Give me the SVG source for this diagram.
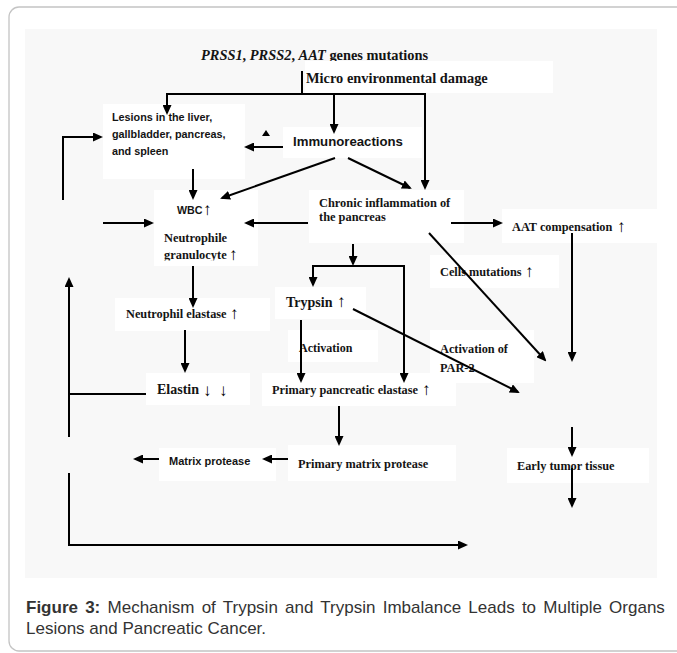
<svg xmlns="http://www.w3.org/2000/svg" width="677" height="653" viewBox="0 0 677 653">
<style>
.box{fill:#fff}
.s{font-family:"Liberation Serif","Times New Roman",serif;font-weight:bold;fill:#141414}
.ss{font-family:"Liberation Sans",Arial,sans-serif;font-weight:bold;fill:#141414}
.ar{font-family:"Liberation Sans","DejaVu Sans",sans-serif;font-weight:bold;fill:#000;font-size:17px}
.c{stroke:#000;stroke-width:2;fill:none}
.ca{stroke:#000;stroke-width:2;fill:none;marker-end:url(#ah)}
.cap{font-family:"Liberation Sans",Arial,sans-serif;font-size:17px;fill:#333}
</style>
<defs>
<marker id="ah" viewBox="0 0 10 9" refX="8" refY="4.5" markerWidth="10" markerHeight="9" markerUnits="userSpaceOnUse" orient="auto"><path d="M0,0 L10,4.5 L0,9 z" fill="#000"/></marker>
<clipPath id="clipG"><rect x="154" y="240" width="104" height="20.5"/></clipPath>
</defs>
<rect x="0" y="0" width="677" height="653" fill="#fff"/>
<rect x="9" y="7" width="720" height="644" rx="10" fill="#fff" stroke="#c4c4c4" stroke-width="1.3"/>
<rect x="25" y="29" width="632" height="549" fill="#f8f8f8"/>

<g id="title"><text class="s" x="201" y="60" font-size="14.4"><tspan font-style="italic">PRSS1</tspan>, <tspan font-style="italic">PRSS2</tspan>, <tspan font-style="italic">AAT</tspan> genes mutations</text></g>
<g id="micro"><rect class="box" x="305" y="61" width="248" height="32"/><text class="s" x="306" y="83" font-size="14.4">Micro environmental damage</text></g>
<g id="lesions"><rect class="box" x="103" y="104" width="142" height="75"/><text class="ss" font-size="10.8"><tspan x="112" y="121">Lesions in the liver,</tspan><tspan x="112" y="138">gallbladder, pancreas,</tspan><tspan x="112" y="155">and spleen</tspan></text></g>
<g id="immuno"><rect class="box" x="283" y="127" width="139" height="31"/><text class="ss" x="293" y="146" font-size="13.2">Immunoreactions</text></g>
<g id="wbc"><rect class="box" x="154" y="190" width="104" height="76"/><text class="ss" x="177" y="214" font-size="10.7">WBC</text><text class="ar" x="203" y="215" font-size="21">↑</text><text class="s" x="164" y="242" font-size="12.4">Neutrophile</text><g clip-path="url(#clipG)"><text class="s" x="164" y="259" font-size="12.4">granulocyte</text></g><text class="ar" x="229" y="260" font-size="16">↑</text></g>
<g id="chronic"><rect class="box" x="309" y="190" width="155" height="53"/><text class="s" font-size="12.4"><tspan x="319" y="207">Chronic inflammation of</tspan><tspan x="319" y="221">the pancreas</tspan></text></g>
<g id="aat"><rect class="box" x="502" y="209" width="155" height="34"/><text class="s" x="512" y="231" font-size="12.3">AAT compensation</text><text class="ar" x="617" y="232">↑</text></g>
<g id="cells"><rect class="box" x="430" y="255" width="129" height="33"/><text class="s" x="440" y="276" font-size="12.3">Cells mutations</text><text class="ar" x="525" y="277">↑</text></g>
<g id="trypsin"><rect class="box" x="275" y="287" width="91" height="32"/><text class="s" x="286" y="307" font-size="14">Trypsin</text><text class="ar" x="337" y="307">↑</text></g>
<g id="activation"><rect class="box" x="288" y="330" width="90" height="32"/><text class="s" x="299" y="352" font-size="12">Activation</text></g>
<g id="par2"><rect class="box" x="430" y="330" width="104" height="53"/><text class="s" font-size="12.3"><tspan x="440" y="353">Activation of</tspan><tspan x="440" y="372">PAR-2</tspan></text></g>
<g id="nelastase"><rect class="box" x="115" y="298" width="155" height="33"/><text class="s" x="126" y="318" font-size="12.3">Neutrophil elastase</text><text class="ar" x="230" y="319">↑</text></g>
<g id="elastin"><rect class="box" x="146" y="373" width="104" height="32"/><text class="s" x="157" y="394" font-size="14">Elastin</text><text class="ar" x="203" y="396">↓</text><text class="ar" x="219" y="396">↓</text></g>
<g id="ppe"><rect class="box" x="262" y="373" width="194" height="33"/><text class="s" x="272" y="394" font-size="12.3">Primary pancreatic elastase</text><text class="ar" x="422" y="395">↑</text></g>
<g id="matrix"><rect class="box" x="159" y="448" width="117" height="33"/><text class="ss" x="169" y="465" font-size="11">Matrix protease</text></g>
<g id="pmp"><rect class="box" x="288" y="445" width="168" height="36"/><text class="s" x="298" y="468" font-size="12.3">Primary matrix protease</text></g>
<g id="tumor"><rect class="box" x="507" y="448" width="142" height="35"/><text class="s" x="517" y="470" font-size="12.3">Early tumor tissue</text></g>

<g id="connectors">
<path class="c" d="M302,71 V94 M166,94 H426"/>
<path class="ca" d="M167,94 V113"/>
<path class="ca" d="M334,94 V132"/>
<path class="ca" d="M425,94 V188"/>
<path class="ca" d="M283,147 H246"/>
<path class="ca" d="M335,158 L222,198"/>
<path class="ca" d="M348,158 L410,188"/>
<path class="ca" d="M193,169 V198"/>
<path class="ca" d="M63,200 V137 H101"/>
<path class="ca" d="M103,223 H152"/>
<path class="ca" d="M308,223 H246"/>
<path class="ca" d="M451,223 H501"/>
<path class="ca" d="M572,233 V360"/>
<path class="ca" d="M429,233 L545,360"/>
<path class="ca" d="M353,244 V264"/>
<path class="ca" d="M353,266 H313 V285"/>
<path class="ca" d="M353,266 H404 V381"/>
<path class="ca" d="M353,309 L518,392"/>
<path class="ca" d="M301,320 V381"/>
<path class="ca" d="M193,266 V306"/>
<path class="ca" d="M185,330 V371"/>
<path class="c" d="M146,394 H69"/>
<path class="ca" d="M69,437 V279"/>
<path class="ca" d="M69,473 V545 H466"/>
<path class="ca" d="M339,406 V444"/>
<path class="ca" d="M288,459 H264"/>
<path class="ca" d="M159,459 H135"/>
<path class="ca" d="M572,427 V455"/>
<path class="ca" d="M572,468 V506"/>
<polygon points="262,136 270,136 266,130" fill="#000"/>
</g>

<g id="caption">
<text class="cap" x="26" y="613" word-spacing="2.5"><tspan font-weight="bold">Figure 3:</tspan> Mechanism of Trypsin and Trypsin Imbalance Leads to Multiple Organs</text>
<text class="cap" x="26" y="634">Lesions and Pancreatic Cancer.</text>
</g>
</svg>
